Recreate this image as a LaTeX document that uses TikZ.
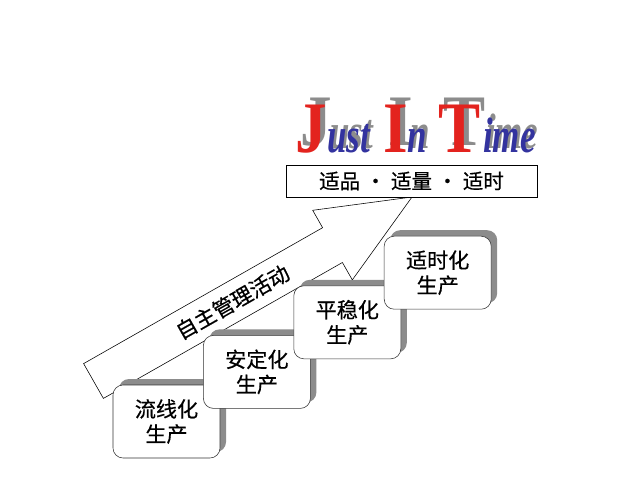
\documentclass[tikz,border=0pt]{standalone}
\usepackage{fontspec}
\setmainfont{Liberation Serif}
\newfontfamily\cjk[FakeBold=0.5]{Noto Sans CJK SC}
\usetikzlibrary{positioning, shadows}
\usepackage{xcolor}
\definecolor{jitred}{HTML}{E3231E}
\definecolor{jitblue}{HTML}{33339F}
\definecolor{jitgray}{HTML}{8C8C8C}
\newcommand{\jitshade}[3]{\makebox[0pt][l]{\hspace{#1}\raisebox{#2}{\color{jitgray}#3}}#3}

\begin{document}
\begin{tikzpicture}[node distance=2.26cm, auto]
\useasboundingbox (0,0) rectangle (16,12);

% Define styles
\tikzstyle{stage} = [rectangle, draw=black!80, fill=white, rounded corners=0.25cm, minimum width=2.675cm, minimum height=1.825cm, align=center, font=\cjk\fontsize{15}{17.8}\selectfont, drop shadow={shadow xshift=0.15cm, shadow yshift=0.15cm, fill=jitgray, opacity=1}]
\tikzstyle{motto} = [rectangle, draw, fill=white, minimum width=6.275cm, minimum height=0.8cm, font=\cjk\fontsize{14.6}{17}\selectfont]
\tikzstyle{bigcap} = [inner sep=0, anchor=base west, xscale=0.87, font=\bfseries\fontsize{51.6}{52}\selectfont, text=jitred]
\tikzstyle{smallcase} = [inner sep=0, anchor=base west, xscale=0.7, font=\bfseries\itshape\fontsize{35.5}{36}\selectfont, text=jitblue]
\tikzstyle{bigarrow} = [draw, thin, fill=white, line join=miter]

% Rising arrow (drawn first, stages lie on top)
\coordinate (tip) at (10.3,7.075);
\draw [bigarrow] (2.09,2.91) -- (8.065,6.3075) -- (7.8175,6.7425) -- (tip) -- (8.8075,5.0025) -- (8.56,5.4375) -- (2.585,2.04) -- cycle;
\node [rotate=29.6, font=\cjk\fontsize{15}{15}\selectfont] (selfmgmt) at (5.8125,4.45) {自主管理活动};

% Stages
\node [stage] (flow) at (4.1625,1.4625) {流线化\\生产};
\node [stage, right of=flow, yshift=1.24cm] (stable) {安定化\\生产};
\node [stage, right of=stable, yshift=1.24cm] (level) {平稳化\\生产};
\node [stage, right of=level, yshift=1.24cm] (timed) {适时化\\生产};

% Goal
\node [motto] (motto) at (10.2875,7.475) {适品\hspace{0.25em}·\hspace{0.25em}适量\hspace{0.25em}·\hspace{0.25em}适时};

% Just In Time title
\node [bigcap] (J) at (7.375,8.2) {\jitshade{0.14cm}{0.175cm}{J}};
\node [smallcase] (ust) at (8.175,8.2) {\jitshade{0.1cm}{0.1cm}{ust}};
\node [bigcap] (I) at (9.575,8.2) {\jitshade{0.14cm}{0.175cm}{I}};
\node [smallcase] (n) at (10.175,8.2) {\jitshade{0.1cm}{0.1cm}{n}};
\node [bigcap] (T) at (10.95,8.2) {\jitshade{0.14cm}{0.175cm}{T}};
\node [smallcase] (ime) at (12.075,8.2) {\jitshade{0.1cm}{0.1cm}{ime}};

\end{tikzpicture}
\end{document}
